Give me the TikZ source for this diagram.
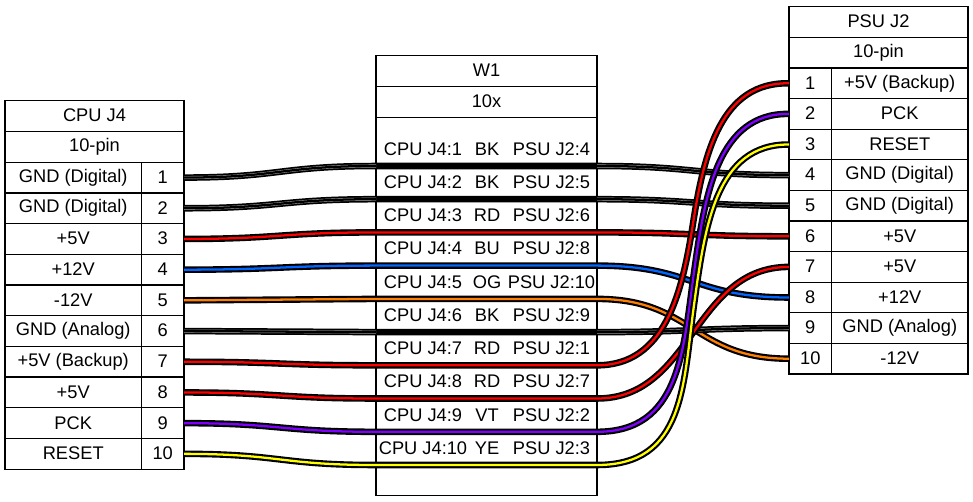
\documentclass[tikz,border=0pt]{standalone}
\usepackage{fontspec}
\setmainfont{Liberation Sans}
\definecolor{wRD}{HTML}{FF0000}
\definecolor{wBU}{HTML}{0066FF}
\definecolor{wOG}{HTML}{FF8000}
\definecolor{wVT}{HTML}{8000FF}
\definecolor{wYE}{HTML}{FFFF00}
\tikzset{
  cell/.style={draw=black,line width=1pt,inner sep=0pt,outer sep=0pt,anchor=north west,font=\fontsize{13.7}{16}\selectfont,align=center},
  plainlabel/.style={inner sep=0pt,outer sep=0pt,font=\fontsize{13.7}{16}\selectfont,anchor=base},
  wouter/.style={line width=4.9pt,draw=black},
  winner/.style={line width=1.7pt},
  wseam/.style={line width=0.3pt,draw=black!35,double=black,double distance=1.7pt}
}
\newcommand{\rowcell}[6]{% name x y w h text
  \node[cell,minimum width=#4*0.75pt,minimum height=#5*0.75pt] (#1) at (#2,#3) {\raisebox{0.75pt}{#6}};}
\newcommand{\leftcurve}[1]{(c#1.east) .. controls (lm |- c#1.east) and (lm |- a#1) .. (a#1)}
\newcommand{\rightcurve}[2]{(b#1) .. controls (rm |- b#1) and (rm |- p#2.west) .. (p#2.west)}
% i, colour, right-hand tail of the wire
\newcommand{\colwire}[3]{%
  \draw[wouter] \leftcurve{#1} -- (b#1) #3;
  \draw[winner,draw=#2] \leftcurve{#1} -- (b#1) #3;}
\newcommand{\blackwire}[2]{%
  \draw[wouter] \leftcurve{#1} -- \rightcurve{#1}{#2};
  \draw[wseam] \leftcurve{#1};
  \draw[wseam] \rightcurve{#1}{#2};}
\newcommand{\simpletail}[2]{.. controls (rm |- b#1) and (rm |- p#2.west) .. (p#2.west)}
\begin{document}
\begin{tikzpicture}[x=0.75pt,y=-0.75pt]
\useasboundingbox (0,0) rectangle (973,501);
% CPU J4
\rowcell{ctitle}{5}{100.5}{179}{31}{CPU J4}
\rowcell{cpins}{5}{131.5}{179}{30.7}{10-pin}
\foreach \i/\ty/\lab in {1/162.2/GND (Digital),2/192.9/GND (Digital),3/223.6/+5V,4/254.3/+12V,5/285/-12V,6/315.7/GND (Analog),7/346.4/+5V (Backup),8/377.1/+5V,9/407.8/PCK,10/438.5/RESET}{
  \rowcell{cl\i}{5}{\ty}{136.5}{30.7}{\lab}
  \rowcell{c\i}{141.5}{\ty}{42.5}{30.7}{\i}
}
% PSU J2
\rowcell{ptitle}{789}{6.5}{179}{31}{PSU J2}
\rowcell{ppins}{789}{37.5}{179}{30.5}{10-pin}
\foreach \i/\ty/\lab in {1/68/+5V (Backup),2/98.6/PCK,3/129.2/RESET,4/159.8/GND (Digital),5/190.4/GND (Digital),6/221/+5V,7/251.6/+5V,8/282.2/+12V,9/312.8/GND (Analog),10/343.4/-12V}{
  \rowcell{p\i}{789}{\ty}{42.5}{30.6}{\i}
  \rowcell{pl\i}{831.5}{\ty}{136.5}{30.6}{\lab}
}
% W1
\rowcell{wt}{376}{55.5}{221}{31}{W1}
\rowcell{wn}{376}{86.5}{221}{31}{10x}
\rowcell{wb}{376}{117.5}{221}{378}{}
% W1 anchors
\foreach \i/\y in {1/166,2/199.2,3/232.4,4/265.6,5/298.9,6/332.1,7/365.3,8/398.5,9/431.8,10/465}{
  \coordinate (a\i) at (376,\y);
  \coordinate (b\i) at (597,\y);
}
\coordinate (lm) at (280,0);
\coordinate (rm) at (693,0);
% W1 labels
\foreach \y/\l/\m/\r in {155/CPU J4:1/BK/PSU J2:4,188/CPU J4:2/BK/PSU J2:5,221/CPU J4:3/RD/PSU J2:6,254/CPU J4:4/BU/PSU J2:8,288/CPU J4:5/OG/PSU J2:10,321/CPU J4:6/BK/PSU J2:9,354/CPU J4:7/RD/PSU J2:1,387/CPU J4:8/RD/PSU J2:7,421/CPU J4:9/VT/PSU J2:2,454/CPU J4:10/YE/PSU J2:3}{
  \node[plainlabel] at (423,\y) {\l};
  \node[plainlabel] at (487,\y) {\m};
  \node[plainlabel] at (551.5,\y) {\r};
}
% control points of the three steep wires
\coordinate (s7m) at (693,223.5);
\coordinate (s9m) at (694,272.5);
\coordinate (s10m) at (694,305);
% wires
\blackwire{1}{4}
\blackwire{2}{5}
\colwire{3}{wRD}{\simpletail{3}{6}}
\colwire{4}{wBU}{\simpletail{4}{8}}
\colwire{5}{wOG}{\simpletail{5}{10}}
\blackwire{6}{9}
\colwire{7}{wRD}{.. controls (665,365.3) and (682,294) .. (s7m) .. controls (704,153) and (721,82) .. (p1.west)}
\colwire{8}{wRD}{\simpletail{8}{7}}
\colwire{9}{wVT}{.. controls (680,431.8) and (683,352) .. (s9m) .. controls (705,193) and (718,113) .. (p2.west)}
\colwire{10}{wYE}{.. controls (685,465) and (683,385) .. (s10m) .. controls (705,225) and (716,144) .. (p3.west)}
\end{tikzpicture}
\end{document}
